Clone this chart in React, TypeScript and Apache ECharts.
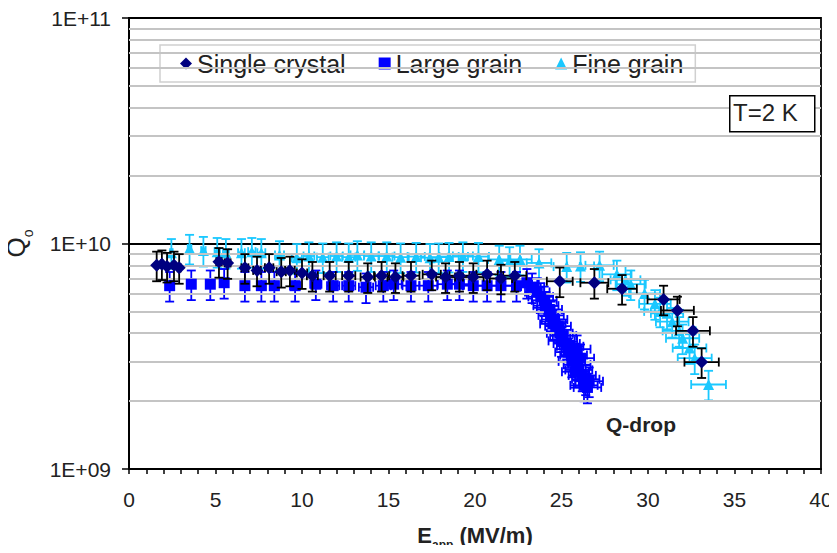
import React, { useEffect, useRef } from "react";
import * as echarts from "echarts";

// Accelerating field E_acc (MV/m) and Q0 (in units of 1e9)
const singleE = [1.6, 1.9, 2.2, 2.6, 2.9, 5.2, 5.7, 6.7, 7.4, 8.1, 8.8, 9.3, 10.0, 10.6, 11.6, 12.7, 13.8, 14.6, 15.4, 16.3, 17.5, 18.3, 19.1, 19.9, 20.7, 21.5, 22.3, 24.9, 26.9, 28.5, 30.9, 31.7, 32.6, 33.1];
const singleQ = [8.0, 8.1, 7.9, 8.0, 7.8, 8.3, 8.2, 7.8, 7.6, 7.8, 7.5, 7.6, 7.4, 7.2, 7.2, 7.2, 7.1, 7.2, 7.1, 7.2, 7.3, 7.1, 7.2, 7.1, 7.3, 7.0, 7.2, 6.8, 6.7, 6.3, 5.65, 5.05, 4.1, 2.98];

const largeE = [2.35, 3.6, 4.7, 5.5, 6.7, 7.65, 8.4, 9.6, 10.8, 11.8, 12.7, 13.7, 14.7, 15.3, 16.3, 17.3, 18.4, 19.1, 19.9, 20.7, 21.5, 22.4, 23.0, 23.3, 23.6, 23.8, 24.0, 24.1, 24.3, 24.4, 24.6, 24.5, 24.8, 24.9, 25.1, 25.0, 25.3, 25.5, 25.4, 25.7, 25.9, 25.6, 25.9, 26.1, 26.0, 26.2, 25.8, 26.4, 26.3, 26.6, 26.5];
const largeQ = [6.5, 6.6, 6.6, 6.7, 6.5, 6.5, 6.5, 6.5, 6.6, 6.5, 6.5, 6.4, 6.5, 6.6, 6.5, 6.5, 6.6, 6.6, 6.5, 6.5, 6.5, 6.5, 6.7, 6.4, 6.1, 5.8, 5.6, 5.3, 5.1, 4.8, 4.6, 4.4, 4.3, 4.0, 3.9, 3.7, 3.6, 3.5, 3.3, 3.2, 3.4, 3.0, 2.9, 3.1, 2.75, 2.6, 2.7, 2.5, 2.35, 2.45, 2.3];

const fineE = [2.45, 3.5, 4.3, 5.1, 5.6, 6.5, 7.1, 7.65, 8.7, 9.7, 10.4, 11.2, 12.0, 12.7, 13.2, 14.0, 14.9, 15.7, 16.6, 17.4, 17.9, 18.5, 19.3, 20.2, 21.4, 22.0, 22.6, 23.7, 25.3, 26.1, 27.2, 28.2, 28.7, 29.0, 29.8, 30.4, 30.7, 31.1, 31.4, 31.8, 32.0, 32.4, 32.7, 33.5];
const fineQ = [9.1, 9.5, 9.3, 9.2, 9.1, 9.1, 9.2, 9.1, 8.9, 8.65, 8.8, 8.7, 8.8, 8.7, 8.9, 8.8, 8.8, 8.7, 8.75, 8.65, 8.7, 8.75, 8.8, 8.75, 8.5, 8.37, 8.5, 8.2, 7.9, 7.95, 8.0, 7.3, 6.9, 6.6, 6.0, 5.4, 5.0, 4.9, 4.5, 4.1, 3.8, 3.44, 3.1, 2.37];

const Q_UNIT = 1e9;
// relative uncertainties
const relErrE = 0.03;
const relErrQ = 0.15;

const minorGridQ = [2e9, 3e9, 4e9, 5e9, 6e9, 7e9, 8e9, 9e9, 2e10, 3e10, 4e10, 5e10, 6e10, 7e10, 8e10, 9e10];

const seriesNames = ["Single crystal", "Large grain", "Fine grain"];

const FONT = "'Liberation Sans', Arial, sans-serif";

function toData(E: number[], Q: number[]) {
  return E.map((e, i) => [e, Q[i] * Q_UNIT]);
}

function errorBarSeries(name: string, data: number[][], color: string, z: number) {
  return {
    type: "custom",
    name,
    z,
    silent: true,
    data,
    encode: { x: 0, y: 1 },
    renderItem: (_p: any, api: any) => {
      const x = api.value(0);
      const y = api.value(1);
      const l = api.coord([x * (1 - relErrE), y]);
      const r = api.coord([x * (1 + relErrE), y]);
      const b = api.coord([x, y * (1 - relErrQ)]);
      const t = api.coord([x, y * (1 + relErrQ)]);
      const c = 4.5;
      const style = { stroke: color, lineWidth: 1.8, fill: null };
      return {
        type: "group",
        children: [
          { type: "line", shape: { x1: l[0], y1: l[1], x2: r[0], y2: r[1] }, style },
          { type: "line", shape: { x1: l[0], y1: l[1] - c, x2: l[0], y2: l[1] + c }, style },
          { type: "line", shape: { x1: r[0], y1: r[1] - c, x2: r[0], y2: r[1] + c }, style },
          { type: "line", shape: { x1: b[0], y1: b[1], x2: t[0], y2: t[1] }, style },
          { type: "line", shape: { x1: b[0] - c, y1: b[1], x2: b[0] + c, y2: b[1] }, style },
          { type: "line", shape: { x1: t[0] - c, y1: t[1], x2: t[0] + c, y2: t[1] }, style },
        ],
      };
    },
  };
}

export default function App() {
  const ref = useRef<HTMLDivElement>(null);
  useEffect(() => {
    if (!ref.current) return;
    const chart = echarts.init(ref.current, undefined, { renderer: "svg" });
    const sData = toData(singleE, singleQ);
    const lData = toData(largeE, largeQ);
    const fData = toData(fineE, fineQ);
    const navy = "#000080";
    const blue = "#0000FF";
    const cyan = "#1AC8FF";
    chart.setOption({
      animation: false,
      backgroundColor: "#fff",
      grid: {
        left: 129,
        right: 16,
        top: 18,
        bottom: 84,
        containLabel: false,
        outerBoundsMode: "none",
        show: true,
        borderColor: "#000",
        borderWidth: 1.8,
        backgroundColor: "transparent",
      },
      legend: {
        data: [
          { name: seriesNames[0], icon: "diamond" },
          { name: seriesNames[1], icon: "rect" },
          { name: seriesNames[2], icon: "triangle" },
        ],
        left: 160,
        top: 45,
        itemWidth: 12,
        itemHeight: 12,
        itemGap: 33,
        padding: [6, 12, 6, 20],
        borderColor: "#d0d0d0",
        borderWidth: 1.5,
        backgroundColor: "#fff",
        textStyle: { fontFamily: FONT, fontSize: 25, color: "#222" },
      },
      xAxis: {
        type: "value",
        min: 0,
        max: 40,
        interval: 5,
        name: "{e|E}{s|app}{e| (MV/m)}",
        nameLocation: "middle",
        nameGap: 55,
        nameTextStyle: {
          rich: {
            e: { fontFamily: FONT, fontSize: 22, fontWeight: "bold", color: "#222", lineHeight: 23, verticalAlign: "top" },
            s: { fontFamily: FONT, fontSize: 12, fontWeight: "bold", color: "#222", lineHeight: 27, verticalAlign: "bottom" },
          },
        },
        axisLine: { lineStyle: { color: "#000", width: 2 } },
        axisTick: { show: true, length: 5, lineStyle: { color: "#000", width: 1.5 } },
        minorTick: { show: true, splitNumber: 5, length: 5, lineStyle: { color: "#000", width: 1.5 } },
        splitLine: { show: false },
        axisLabel: { fontFamily: FONT, fontSize: 21, color: "#222", margin: 20 },
      },
      yAxis: {
        type: "log",
        logBase: 10,
        min: 1e9,
        max: 1e11,
        name: "{q|Q}{s|o}",
        nameLocation: "middle",
        nameRotate: 90,
        nameGap: 94,
        nameTextStyle: {
          rich: {
            q: { fontFamily: FONT, fontSize: 26, color: "#222", lineHeight: 26, verticalAlign: "top" },
            s: { fontFamily: FONT, fontSize: 14, color: "#222", lineHeight: 32, verticalAlign: "bottom" },
          },
        },
        axisLine: { show: true, lineStyle: { color: "#000", width: 2 } },
        axisTick: { show: true, length: 7, lineStyle: { color: "#000", width: 1.5 } },
        splitLine: { show: true, lineStyle: { color: "#000", width: 2 } },
        axisLabel: {
          fontFamily: FONT,
          fontSize: 21,
          color: "#222",
          margin: 18,
          formatter: (v: number) => {
            const p = Math.round(Math.log10(v));
            return "1E+" + (p < 10 ? "0" + p : String(p));
          },
        },
      },
      series: [
        {
          type: "line",
          name: "grid",
          data: [],
          silent: true,
          z: 1,
          markLine: {
            silent: true,
            symbol: ["none", "none"],
            label: { show: false },
            lineStyle: { color: "#c4c4c4", width: 1.8, type: "solid" },
            data: minorGridQ.map((v) => ({ yAxis: v })),
          },
        },
        errorBarSeries("fine-err", fData, cyan, 2),
        {
          type: "scatter",
          name: seriesNames[2],
          data: fData,
          symbol: "triangle",
          symbolSize: 11,
          itemStyle: { color: cyan, opacity: 1 },
          z: 3,
        },
        errorBarSeries("large-err", lData, blue, 4),
        {
          type: "scatter",
          name: seriesNames[1],
          data: lData,
          symbol: "rect",
          symbolSize: 11,
          itemStyle: { color: blue, opacity: 1 },
          z: 5,
        },
        errorBarSeries("single-err", sData, "#000", 6),
        {
          type: "scatter",
          name: seriesNames[0],
          data: sData,
          symbol: "diamond",
          symbolSize: 13,
          itemStyle: { color: navy, opacity: 1 },
          z: 7,
        },
      ],
      graphic: [
        {
          type: "rect",
          left: 729,
          top: 95,
          shape: { width: 85, height: 36 },
          style: { fill: "#fff", stroke: "#000", lineWidth: 1.5 },
          z: 10,
        },
        {
          type: "text",
          left: 733,
          top: 100,
          style: { text: "T=2 K", fontFamily: FONT, fontSize: 24, fill: "#222" },
          z: 11,
        },
        {
          type: "text",
          left: 606,
          top: 414,
          style: { text: "Q-drop", fontFamily: FONT, fontSize: 21, fontWeight: "bold", fill: "#222" },
          z: 11,
        },
      ],
    });
    return () => chart.dispose();
  }, []);
  return <div ref={ref} style={{ width: 837, height: 553, margin: -8 }} />;
}
